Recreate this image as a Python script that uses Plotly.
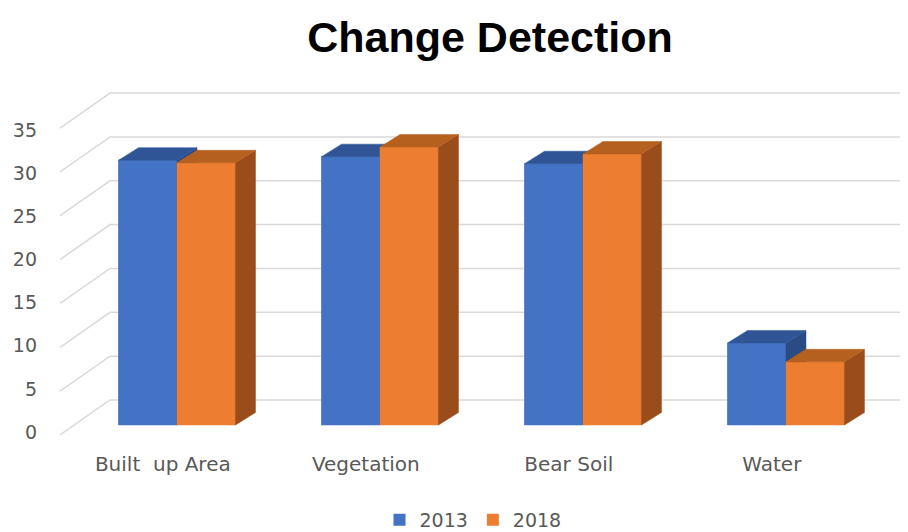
import plotly.graph_objects as go

categories = ["Built  up Area", "Vegetation", "Bear Soil", "Water"]
series_names = ["2013", "2018"]
values_2013 = [30.2, 30.6, 29.8, 9.35]
values_2018 = [29.9, 31.7, 30.9, 7.2]
y_ticks = [0, 5, 10, 15, 20, 25, 30, 35]

front_colors = ["#4472C4", "#ED7D31"]
top_colors = ["#2F5597", "#B5601F"]
side_colors = ["#2A4B84", "#9A4C1A"]

# geometry (pseudo 3D)
BAR_W = 0.288          # width of one bar in category units
DX = 0.0985            # depth offset, x units
DY = 1.425             # depth offset, y units
FRONT_SHIFT = -1.14    # front wall plane offset relative to bar plane
BACK_SHIFT = 2.85      # back wall plane offset relative to bar plane
X_MIN, X_MAX = -0.5764, 3.5862
X_BACK = -0.33
Y_MIN, Y_MAX = -1.71, 38.77
LABEL_SHIFT = -0.07
TICK_SCALE, TICK_SHIFT = 0.983, -0.8   # placement of the front axis labels

# page body has an 8px margin; figure sized to fit the window
W, H = 900, 524
OFF = 8

fig = go.Figure()

all_series = [values_2013, values_2018]
offsets = [-BAR_W, 0.0]
xs = list(range(len(categories)))

for s, vals in enumerate(all_series):
    fig.add_trace(go.Bar(
        x=xs, y=vals, name=series_names[s], offset=offsets[s], width=BAR_W,
        marker=dict(color=front_colors[s], line=dict(width=0)),
        legendrank=s,
    ))

for s, vals in enumerate(all_series):
    fx, fy = [], []
    sx, sy = [], []
    tx, ty = [], []
    for i, v in zip(xs, vals):
        xl = i + offsets[s]
        xr = xl + BAR_W
        fx += [xl, xr, xr, xl, xl, None]
        fy += [0, 0, v, v, 0, None]
        sx += [xr, xr + DX, xr + DX, xr, xr, None]
        sy += [0, DY, v + DY, v, 0, None]
        tx += [xl, xr, xr + DX, xl + DX, xl, None]
        ty += [v, v, v + DY, v + DY, v, None]
    for px, py, col in ((fx, fy, front_colors[s]), (sx, sy, side_colors[s]),
                        (tx, ty, top_colors[s])):
        fig.add_trace(go.Scatter(x=px, y=py, mode="lines", fill="toself",
                                 fillcolor=col, line=dict(color=col, width=0.5),
                                 showlegend=False, hoverinfo="skip"))

# wall gridlines
shapes = []
for v in y_ticks:
    path = (f"M {X_MIN},{v + FRONT_SHIFT} L {X_BACK},{v + BACK_SHIFT} "
            f"L {X_MAX},{v + BACK_SHIFT}")
    shapes.append(dict(type="path", path=path, xref="x", yref="y",
                       line=dict(color="#D9D9D9", width=1.5), layer="below"))

fig.update_layout(
    width=W, height=H,
    margin=dict(l=60 - OFF, r=W - (905 - OFF), t=85 - OFF, b=H - (440 - OFF),
                autoexpand=False),
    paper_bgcolor="white", plot_bgcolor="white",
    barmode="overlay",
    shapes=shapes,
    hovermode=False,
    title=dict(text="<b>Change Detection</b>", x=(490 - OFF) / W, xanchor="center",
               y=1 - 29 / H, yanchor="middle",
               font=dict(family="Liberation Sans, Arial, sans-serif",
                         size=43, color="black")),
    xaxis=dict(range=[X_MIN, X_MAX], showgrid=False, zeroline=False, showline=False,
               automargin=False,
               tickmode="array", tickvals=[i + LABEL_SHIFT for i in xs],
               ticktext=categories, ticks="", ticklabelstandoff=10,
               tickfont=dict(family="DejaVu Sans", size=20, color="#595959")),
    yaxis=dict(range=[Y_MIN, Y_MAX], showgrid=False, zeroline=False, showline=False,
               automargin=False,
               tickmode="array", tickvals=[v * TICK_SCALE + TICK_SHIFT for v in y_ticks],
               ticktext=[str(v) for v in y_ticks], ticks="", ticklabelstandoff=22,
               tickfont=dict(family="DejaVu Sans", size=19, color="#595959")),
    legend=dict(orientation="h", x=(473 - 60) / 845, xanchor="center",
                y=(440 - 520) / 355, yanchor="middle",
                font=dict(family="DejaVu Sans", size=19, color="#595959"),
                itemclick=False, itemdoubleclick=False),
)

fig.write_html("out.html")
